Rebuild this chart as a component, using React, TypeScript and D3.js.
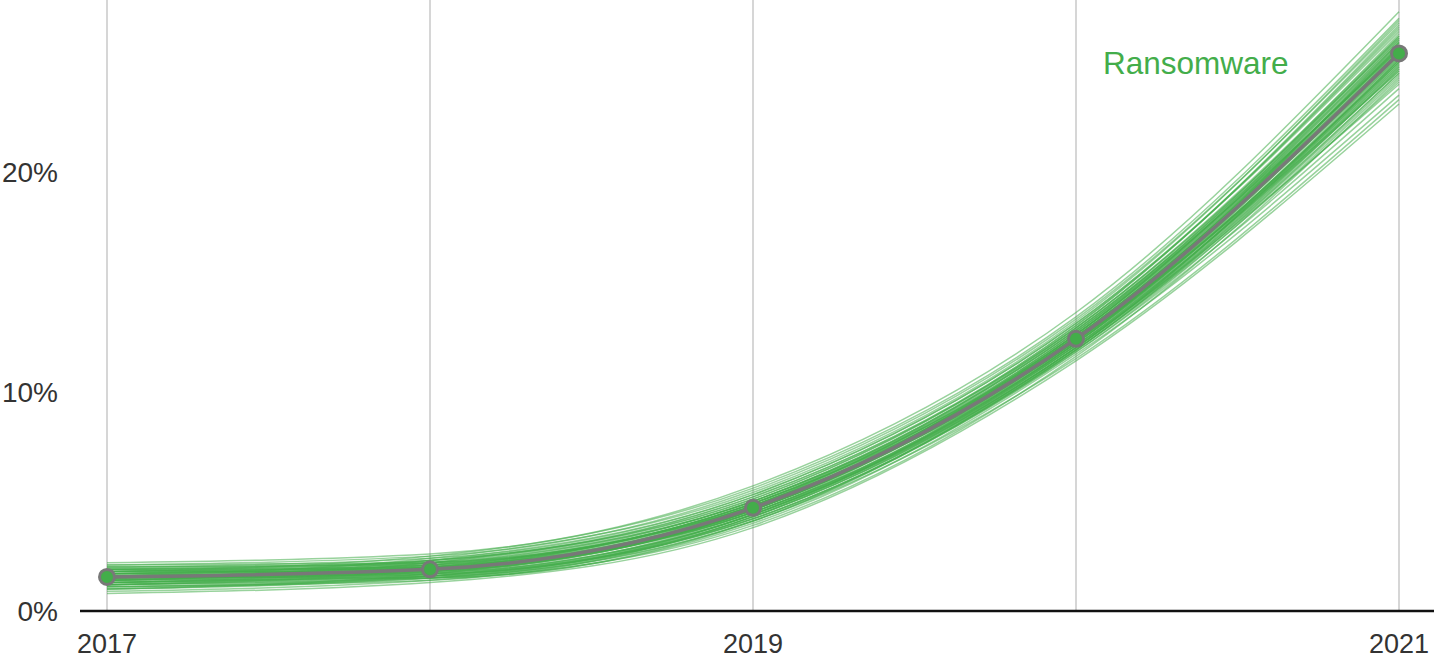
import React from "react";
import * as d3 from "d3";

const years = [2017, 2018, 2019, 2020, 2021];
const xTickYears = [2017, 2019, 2021];
const yTicks = [0, 10, 20];
const mainSeries = [1.55, 1.9, 4.7, 12.4, 25.4];
const seriesLabel = "Ransomware";

// resampled (bootstrap) estimates, values in % per year
const samples: number[][] = [
  [1.2, 1.6, 4.3, 12.0, 25.0],
  [1.9, 2.3, 5.2, 12.9, 26.1],
  [0.9, 1.4, 3.9, 11.6, 24.2],
  [2.1, 2.5, 5.5, 13.3, 26.8],
  [1.5, 1.8, 4.6, 12.3, 25.3],
  [1.7, 2.1, 4.9, 12.6, 25.7],
  [1.3, 1.7, 4.4, 12.1, 24.8],
  [2.2, 2.6, 5.7, 13.6, 27.3],
  [0.8, 1.3, 3.8, 11.4, 23.1],
  [1.6, 1.9, 4.7, 12.5, 25.5],
  [1.4, 2.0, 4.8, 12.2, 25.9],
  [1.8, 1.8, 4.5, 12.4, 24.6],
  [1.1, 1.5, 4.1, 11.8, 23.8],
  [2.0, 2.4, 5.3, 13.1, 26.4],
  [1.5, 2.2, 5.0, 12.8, 26.0],
  [1.6, 1.7, 4.2, 11.9, 24.4],
  [1.0, 1.6, 4.4, 12.0, 25.1],
  [1.9, 2.0, 4.6, 12.7, 25.6],
  [1.3, 1.9, 4.9, 12.3, 24.9],
  [1.7, 2.3, 5.1, 13.0, 26.6],
  [1.4, 1.5, 4.0, 11.7, 23.5],
  [1.8, 2.1, 4.8, 12.5, 25.2],
  [1.2, 1.8, 4.5, 12.2, 25.4],
  [2.0, 2.2, 5.0, 12.6, 26.2],
  [1.5, 2.0, 4.7, 12.4, 25.8],
  [1.1, 1.4, 4.3, 12.1, 24.0],
  [1.6, 2.4, 5.4, 13.2, 26.9],
  [1.9, 1.9, 4.6, 12.3, 25.0],
  [1.3, 1.6, 4.2, 11.9, 24.7],
  [1.7, 2.0, 4.8, 12.8, 25.6],
  [1.5, 1.7, 4.4, 12.0, 24.5],
  [1.4, 2.1, 5.0, 12.7, 26.3],
  [1.8, 2.5, 5.6, 13.4, 27.0],
  [1.2, 1.5, 4.1, 11.5, 23.3],
  [1.6, 1.8, 4.6, 12.4, 25.3],
  [1.0, 1.7, 4.5, 12.2, 25.1],
  [2.1, 2.2, 4.9, 12.5, 25.7],
  [1.5, 1.9, 4.7, 12.6, 25.9],
  [1.3, 2.0, 4.8, 12.3, 25.5],
  [1.7, 1.6, 4.3, 12.0, 24.8],
  [1.4, 1.8, 4.6, 12.5, 25.6],
  [1.6, 2.1, 4.9, 12.9, 26.2],
  [1.8, 2.0, 4.5, 12.1, 24.9],
  [1.2, 1.7, 4.7, 12.6, 26.0],
  [1.5, 2.3, 5.3, 13.1, 26.5],
  [1.9, 2.2, 4.8, 12.2, 25.2],
  [1.1, 1.6, 4.2, 11.8, 24.3],
  [1.7, 1.9, 4.6, 12.4, 25.4],
  [1.4, 2.2, 5.1, 12.9, 26.1],
  [1.6, 1.5, 4.1, 11.9, 24.1],
  [2.0, 2.1, 4.7, 12.3, 25.0],
  [1.3, 1.8, 4.8, 12.7, 25.8],
  [1.5, 1.6, 4.4, 12.2, 24.6],
  [1.8, 2.3, 5.2, 13.0, 26.7],
  [1.0, 1.5, 4.3, 11.9, 24.5],
  [1.6, 2.0, 4.6, 12.5, 25.5],
  [1.4, 1.9, 4.5, 12.1, 25.1],
  [1.7, 2.2, 5.0, 12.8, 25.9],
  [1.2, 1.9, 4.9, 12.6, 25.7],
  [1.9, 1.7, 4.4, 12.0, 24.7],
];

const W = 1434;
const H = 658;
const GREEN = "#43ad4a";
const GRAY = "#787878";
const FONT = "'Liberation Sans', Arial, Helvetica, sans-serif";

export default function App() {
  const x = d3.scaleLinear().domain([2017, 2021]).range([107, 1399]);
  const y = d3.scaleLinear().domain([0, 20]).range([611, 172]);
  const line = d3
    .line<number>()
    .x((_, i) => x(years[i]))
    .y((d) => y(d))
    .curve(d3.curveMonotoneX);

  return (
    <svg
      width={W}
      height={H}
      style={{ position: "absolute", left: 0, top: 0, background: "#fff" }}
    >
      {years.map((yr) => (
        <line
          key={yr}
          x1={x(yr)}
          x2={x(yr)}
          y1={0}
          y2={y(0)}
          stroke="#d6d6d6"
          strokeWidth={2}
        />
      ))}
      <line x1={80} x2={W} y1={y(0)} y2={y(0)} stroke="#111" strokeWidth={2.5} />
      {yTicks.map((t) => (
        <text
          key={t}
          x={58}
          y={y(t) + 10}
          textAnchor="end"
          fontFamily={FONT}
          fontSize={28}
          fill="#333"
        >
          {t}%
        </text>
      ))}
      {xTickYears.map((t) => (
        <text
          key={t}
          x={x(t)}
          y={653}
          textAnchor="middle"
          fontFamily={FONT}
          fontSize={27}
          fill="#333"
        >
          {t}
        </text>
      ))}
      <g>
        {samples.map((s, i) => (
          <path
            key={i}
            d={line(s) || ""}
            fill="none"
            stroke={GREEN}
            strokeWidth={1.5}
            strokeOpacity={0.55}
          />
        ))}
      </g>
      <path d={line(mainSeries) || ""} fill="none" stroke={GRAY} strokeWidth={3.5} />
      {mainSeries.map((v, i) => (
        <circle
          key={i}
          cx={x(years[i])}
          cy={y(v)}
          r={7.5}
          fill={GREEN}
          stroke={GRAY}
          strokeWidth={3}
        />
      ))}
      <text x={1103} y={74} fontFamily={FONT} fontSize={31.5} fill={GREEN}>
        {seriesLabel}
      </text>
    </svg>
  );
}
